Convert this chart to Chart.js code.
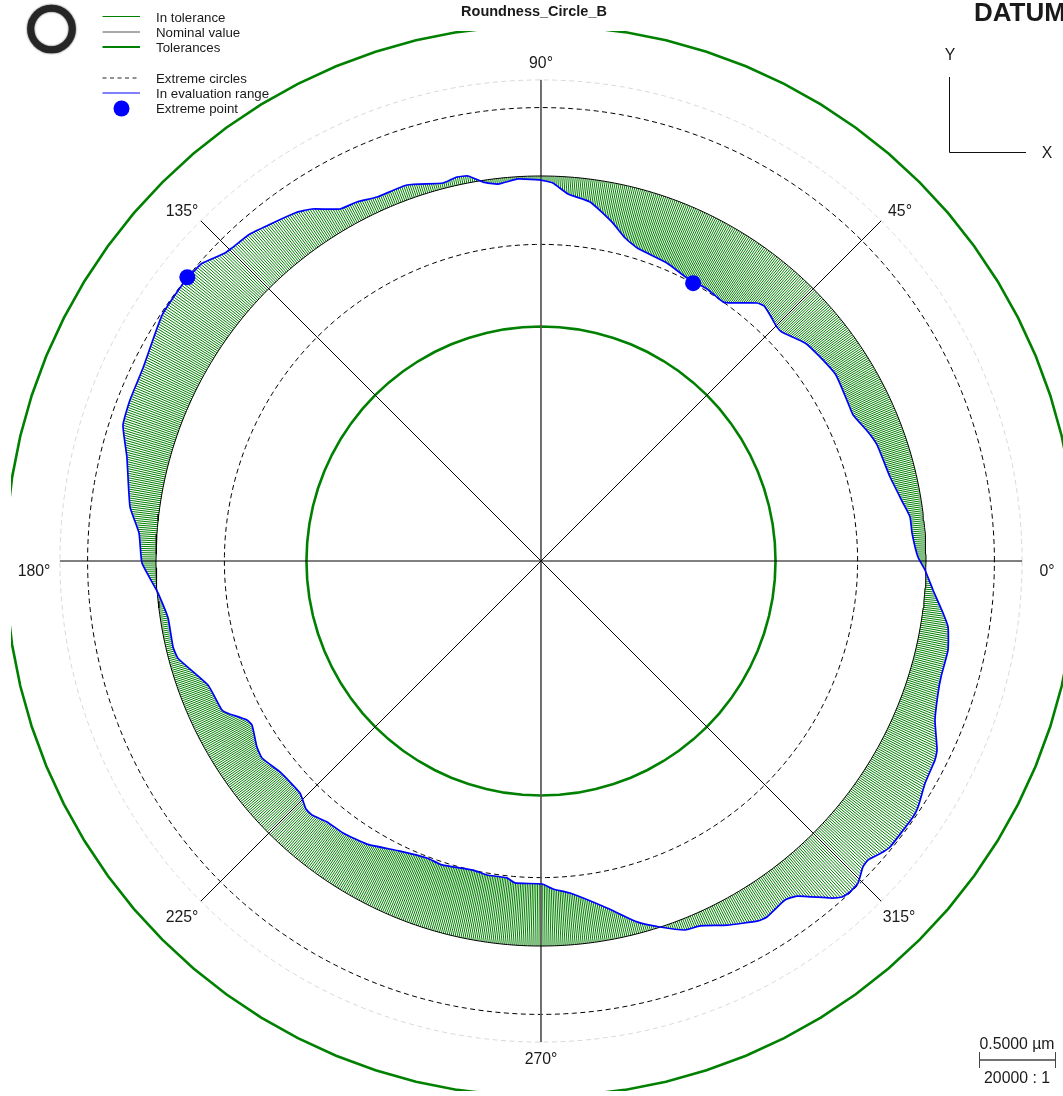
<!DOCTYPE html>
<html>
<head>
<meta charset="utf-8">
<title>Roundness_Circle_B</title>
<script src="https://cdn.jsdelivr.net/npm/chart.js@4/dist/chart.umd.min.js"></script>
<style>
	html, body { margin: 0; padding: 0; background: #fff; }
	canvas { display: block; }
</style>
</head>
<body>
<canvas id="chart-roundness" width="1063" height="1096"></canvas>
<script>
const chartTitle = 'Roundness_Circle_B';
const legendLabels = ['In tolerance', 'Nominal value', 'Tolerances', 'Extreme circles', 'In evaluation range', 'Extreme point'];
const angleLabels = ['0°', '45°', '90°', '135°', '180°', '225°', '270°', '315°'];
const scaleBarLabel = '0.5000 µm';
const scaleRatioLabel = '20000 : 1';

// all radial values in µm, relative to the nominal circle
const nominalOffset = 2.533;
const toleranceValues = [-0.99, 0.99];
const extremeValues = [-0.45, 0.45];
const outerGridValue = 0.632;
const spokeAngles = [0, 45, 90, 135];

// measured profile, read clockwise from the top
const profileAngles = [
	90.15, 88.2, 85.8, 82.2, 78.2, 75.4, 72.9, 67.1, 62.7, 58.6,
	54.9, 53.35, 50.06, 48.83, 47.05, 44.8, 43.5, 39.55, 36.18, 32.24,
	27.24, 25.07, 21.53, 19.05, 13.53, 9.1, 6.8, 4.32, 0.6, 358.66,
	355.77, 352.63, 350.79, 347.66, 343.83, 341.6, 338.03, 334.49, 333.2, 329.97,
	326.88, 325.47, 320.67, 319.61, 317.56, 316.46, 314.55, 313.03, 311.86, 310.62,
	307.38, 305.74, 302.4, 301.08, 297.06, 293.54, 291.32, 288.01, 284.9, 280.77,
	275, 272.1, 270.2, 265.38, 263.88, 260.24, 257.59, 251.96, 249, 244.07,
	238.42, 233.95, 230.65, 227.96, 226.54, 223.91, 218.95, 215.23, 213.22, 209.57,
	208.4, 205.83, 205.03, 200.42, 195.04, 193.15, 188.69, 184.78, 180.29, 176.02,
	172.51, 165.9, 161.98, 158.61, 154.13, 147.01, 142.44, 139.57, 138.68, 135.74,
	134.63, 131.67, 125.26, 123.05, 119.73, 117.14, 114.25, 109.62, 104.53, 102.34,
	100.74, 98.7, 96.51, 93.45, 90.15
];
const profileDeviation = [
	-0.026, -0.045, -0.112, -0.149, -0.254, -0.337, -0.379, -0.405, -0.438, -0.436,
	-0.45, -0.417, -0.319, -0.304, -0.322, -0.347, -0.346, -0.28, -0.259, -0.239,
	-0.261, -0.266, -0.22, -0.194, -0.171, -0.121, -0.088, -0.085, -0.053, -0.006,
	0.053, 0.134, 0.18, 0.208, 0.207, 0.22, 0.262, 0.354, 0.371, 0.386,
	0.429, 0.438, 0.436, 0.421, 0.382, 0.389, 0.44, 0.446, 0.435, 0.388,
	0.241, 0.215, 0.241, 0.232, 0.157, 0.086, 0.073, -0.001, -0.076, -0.209,
	-0.34, -0.374, -0.408, -0.408, -0.436, -0.437, -0.451, -0.43, -0.44, -0.411,
	-0.347, -0.32, -0.313, -0.283, -0.285, -0.332, -0.325, -0.286, -0.299, -0.347,
	-0.334, -0.238, -0.216, -0.195, -0.061, -0.047, -0.051, -0.005, 0.092, 0.118,
	0.194, 0.276, 0.359, 0.371, 0.377, 0.439, 0.446, 0.44, 0.435, 0.37,
	0.361, 0.347, 0.271, 0.23, 0.134, 0.121, 0.093, 0.093, 0.036, 0.053,
	0.045, -0.011, -0.037, -0.015, -0.026
];
const extremeAngles = [61.3, 141.26];
const extremeDeviation = [-0.449, 0.45];

const GREEN = '#008000';
const BLUE = '#0000ff';
const FONT = '"Liberation Sans", Arial, sans-serif';

function polar(angle, dev){
	const r = nominalOffset + dev;
	const a = angle * Math.PI / 180;
	return { x: r * Math.cos(a), y: r * Math.sin(a) };
}

function circle(dev, step){
	const pts = [];
	for(let a = 0; a <= 360; a += step) pts.push(polar(a, dev));
	return pts;
}

function spoke(angle){
	return [polar(angle, outerGridValue), polar(angle + 180, outerGridValue)];
}

function lineSet(data, color, width, dash, extra){
	return Object.assign({ data, showLine: true, borderColor: color, borderWidth: width, borderDash: dash || [], pointRadius: 0, tension: 0 }, extra || {});
}

const profilePoints = profileAngles.map((a, i) => polar(a, profileDeviation[i]));
const extremePoints = extremeAngles.map((a, i) => polar(a, extremeDeviation[i]));

// thin radial lines between the nominal circle and the measured profile
const hatchPlugin = {
	id: 'hatch',
	beforeDatasetsDraw(chart){
		const { ctx, scales: { x, y } } = chart;
		ctx.save();
		ctx.beginPath();
		profilePoints.forEach((p, i) => {
			if(i === 0) ctx.moveTo(x.getPixelForValue(p.x), y.getPixelForValue(p.y));
			else ctx.lineTo(x.getPixelForValue(p.x), y.getPixelForValue(p.y));
		});
		ctx.closePath();
		const cx = x.getPixelForValue(0), cy = y.getPixelForValue(0);
		const nomR = x.getPixelForValue(nominalOffset) - cx;
		ctx.moveTo(cx + nomR, cy);
		ctx.arc(cx, cy, nomR, 0, Math.PI * 2);
		ctx.clip('evenodd');
		ctx.strokeStyle = GREEN;
		ctx.lineWidth = 1;
		ctx.beginPath();
		for(let a = 0; a < 360; a += 0.3){
			const p0 = polar(a, -0.5), p1 = polar(a, 0.5);
			ctx.moveTo(x.getPixelForValue(p0.x), y.getPixelForValue(p0.y));
			ctx.lineTo(x.getPixelForValue(p1.x), y.getPixelForValue(p1.y));
		}
		ctx.stroke();
		ctx.restore();
	}
};

// the outer tolerance circle stops at the drawing frame on the left
const frameClipPlugin = {
	id: 'frameClip',
	beforeDatasetDraw(chart, args){
		if(args.index !== chart.data.datasets.length - 1) return;
		chart.ctx.save();
		chart.ctx.beginPath();
		chart.ctx.rect(11, 0, chart.width, chart.height);
		chart.ctx.clip();
	},
	afterDatasetDraw(chart, args){
		if(args.index === chart.data.datasets.length - 1) chart.ctx.restore();
	}
};

function text(ctx, str, px, py, font, align){
	ctx.font = font;
	ctx.textAlign = align || 'center';
	ctx.textBaseline = 'middle';
	ctx.fillStyle = '#1a1a1a';
	ctx.fillText(str, px, py);
}

function seg(ctx, x0, y0, x1, y1, color, width, dash){
	ctx.save();
	ctx.strokeStyle = color;
	ctx.lineWidth = width;
	ctx.setLineDash(dash || []);
	ctx.beginPath();
	ctx.moveTo(x0, y0);
	ctx.lineTo(x1, y1);
	ctx.stroke();
	ctx.restore();
}

// legend, ring icon, angle labels, datum axes, scale bar
const decorPlugin = {
	id: 'decor',
	afterDraw(chart){
		const ctx = chart.ctx;
		ctx.save();

		ctx.save();
		ctx.strokeStyle = '#262626';
		ctx.lineWidth = 7;
		ctx.shadowColor = '#262626';
		ctx.shadowBlur = 2;
		ctx.beginPath();
		ctx.arc(51.5, 29, 20.8, 0, Math.PI * 2);
		ctx.stroke();
		ctx.restore();

		const legendY = [18, 33, 48, 79, 94, 109.5];
		seg(ctx, 102.5, 16.5, 140, 16.5, GREEN, 1);
		seg(ctx, 102.5, 32, 140, 32, '#555', 1);
		seg(ctx, 102.5, 47, 140, 47, GREEN, 2);
		seg(ctx, 102.5, 78, 140, 78, '#222', 1, [4, 3.5]);
		seg(ctx, 102.5, 93, 140, 93, BLUE, 1.2);
		ctx.fillStyle = BLUE;
		ctx.beginPath();
		ctx.arc(121.5, 108.5, 8, 0, Math.PI * 2);
		ctx.fill();
		legendLabels.forEach((l, i) => text(ctx, l, 156, legendY[i], '13.3px ' + FONT, 'left'));

		const labelPos = [[1047, 571.5], [900, 212], [541, 64], [182, 212], [34, 571.5], [182, 917.5], [541, 1059.5], [899, 917.5]];
		angleLabels.forEach((l, i) => text(ctx, l, labelPos[i][0], labelPos[i][1], '15.8px ' + FONT));

		text(ctx, 'DATUM', 974, 14, 'bold 26px ' + FONT, 'left');
		seg(ctx, 949.5, 77, 949.5, 152.5, '#111', 1);
		seg(ctx, 949.5, 152.5, 1026, 152.5, '#111', 1);
		text(ctx, 'Y', 950, 56, '15.8px ' + FONT);
		text(ctx, 'X', 1047, 153.5, '15.8px ' + FONT);

		text(ctx, scaleBarLabel, 1017, 1044.5, '15.8px ' + FONT);
		seg(ctx, 979.5, 1060, 1055.5, 1060, '#444', 1.5);
		seg(ctx, 979.5, 1052, 979.5, 1068, '#444', 1);
		seg(ctx, 1055.5, 1052, 1055.5, 1068, '#444', 1);
		text(ctx, scaleRatioLabel, 1017, 1078.5, '15.8px ' + FONT);
		ctx.restore();
	}
};

const chart = new Chart(document.getElementById('chart-roundness').getContext('2d'), {
	type: 'scatter',
	data: {
		datasets: [
			{ data: extremePoints, backgroundColor: BLUE, borderWidth: 0, pointRadius: 8, showLine: false },
			lineSet(profilePoints, BLUE, 1.7, [], { tension: 0.15 }),
			lineSet(circle(0, 1), '#000', 1),
			...spokeAngles.map(a => lineSet(spoke(a), a === 90 ? '#5b5b5b' : '#000', 1)),
			...extremeValues.map(v => lineSet(circle(v, 1), '#000', 1, [5, 3.5])),
			lineSet(circle(outerGridValue, 1), '#d9d9d9', 1, [5, 3.5]),
			lineSet(circle(toleranceValues[0], 4.5), GREEN, 2.6),
			lineSet(circle(toleranceValues[1], 4.5), GREEN, 2.6)
		]
	},
	options: {
		responsive: false,
		animation: false,
		layout: { autoPadding: false, padding: { left: 5, right: 0, top: 0, bottom: 5 } },
		scales: {
			x: { type: 'linear', display: false, min: -3.5263, max: 3.4342 },
			y: { type: 'linear', display: false, min: -3.4868, max: 3.4868 }
		},
		plugins: {
			legend: { display: false },
			tooltip: { enabled: false },
			title: {
				display: true,
				text: chartTitle,
				color: '#1a1a1a',
				font: { family: FONT, size: 14.5, weight: 'bold' },
				padding: { top: 3, bottom: 10.6 }
			}
		}
	},
	plugins: [hatchPlugin, frameClipPlugin, decorPlugin]
});
</script>
</body>
</html>
